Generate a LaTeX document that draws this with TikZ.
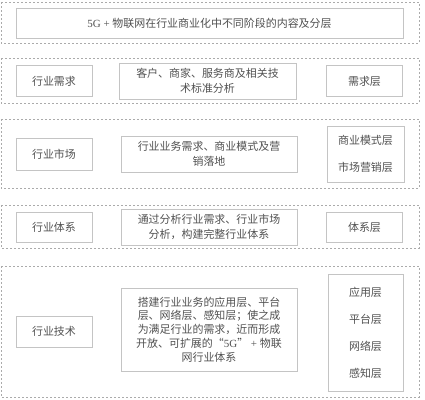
\documentclass[tikz,border=0pt]{standalone}
\usepackage{fontspec}
\setmainfont{Noto Sans CJK SC}
\newfontfamily\latinserif{Liberation Serif}
\begin{document}
\begin{tikzpicture}[x=1bp,y=-1bp,
  grp/.style={draw=grpgray,line width=0.7bp,dash pattern=on 2bp off 2bp},
  cell/.style={draw=cellgray,line width=0.8bp,rectangle,inner sep=0pt,text=txtgray,font=\fontsize{11}{15}\selectfont,align=center},
]
\definecolor{grpgray}{HTML}{ABABAB}
\definecolor{cellgray}{HTML}{C4C4C4}
\definecolor{txtgray}{HTML}{505050}
\useasboundingbox (0,0) rectangle (425,400);
% group frames
\draw[grp] (1,2) rectangle (419,43);
\draw[grp] (1,58) rectangle (419,103);
\draw[grp] (1,119) rectangle (419,188);
\draw[grp] (1,205) rectangle (419,248);
\draw[grp] (1,266) rectangle (419,397);
% row 1
\node[cell,minimum width=387bp,minimum height=30bp] (title) at (209.5,23) {{\latinserif 5G + }物联网在行业商业化中不同阶段的内容及分层};
% row 2
\node[cell,minimum width=76bp,minimum height=31bp] (r2a) at (54,81) {行业需求};
\node[cell,minimum width=177bp,minimum height=36bp] (r2b) at (207.5,81) {客户、商家、服务商及相关技\\术标准分析};
\node[cell,minimum width=76bp,minimum height=31bp] (r2c) at (364.5,81) {需求层};
% row 3
\node[cell,minimum width=76bp,minimum height=32bp] (r3a) at (54,154) {行业市场};
\node[cell,minimum width=176bp,minimum height=36bp] (r3b) at (209,154) {行业业务需求、商业模式及营\\销落地};
\node[cell,minimum width=77bp,minimum height=56bp,text width=77bp] (r3c) at (365.5,154) {商业模式层\\[12bp]市场营销层};
% row 4
\node[cell,minimum width=76bp,minimum height=30bp] (r4a) at (54,227) {行业体系};
\node[cell,minimum width=176bp,minimum height=36bp] (r4b) at (209,227) {通过分析行业需求、行业市场\\分析，构建完整行业体系};
\node[cell,minimum width=76bp,minimum height=30bp] (r4c) at (364.5,227) {体系层};
% row 5
\node[cell,minimum width=76bp,minimum height=31bp] (r5a) at (54,331.5) {行业技术};
\node[cell,minimum width=176bp,minimum height=83bp,font=\fontsize{11}{13.8}\selectfont] (r5b) at (209,329.5) {搭建行业业务的应用层、平台\\层、网络层、感知层；使之成\\为满足行业的需求，近而形成\\开放、可扩展的“{\latinserif 5G}”{\latinserif\ + }物联\\网行业体系};
\node[cell,minimum width=75bp,minimum height=117bp,text width=75bp] (r5c) at (365.5,332.5) {应用层\\[12bp]平台层\\[12bp]网络层\\[12bp]感知层};
\end{tikzpicture}
\end{document}
